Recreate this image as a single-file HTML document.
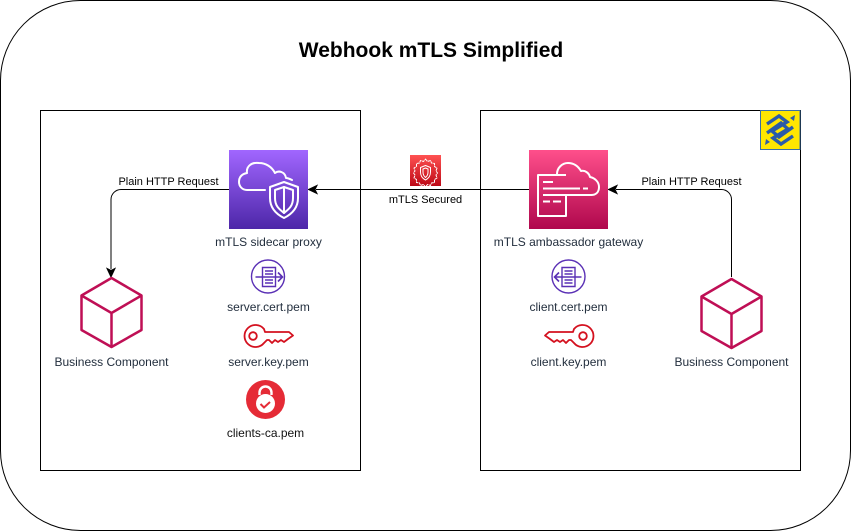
<!DOCTYPE html>
<html><head><meta charset="utf-8"><style>
html,body{margin:0;padding:0;background:#fff}
svg{display:block}
text{font-family:"Liberation Sans",sans-serif}
.l{font-size:12px;fill:#232f3e;text-anchor:middle}
.c{font-size:11px;fill:#000;text-anchor:middle}
</style></head><body>
<svg width="852" height="531" viewBox="0 0 852 531" xmlns="http://www.w3.org/2000/svg">
<defs>
<linearGradient id="pu" x1="0" y1="1" x2="0" y2="0"><stop offset="0" stop-color="#4d27a8"/><stop offset="1" stop-color="#a166ff"/></linearGradient>
<linearGradient id="pk" x1="0" y1="1" x2="0" y2="0"><stop offset="0" stop-color="#b0084d"/><stop offset="1" stop-color="#ff4f8b"/></linearGradient>
<linearGradient id="rd" x1="0" y1="1" x2="0" y2="0"><stop offset="0" stop-color="#bd0816"/><stop offset="1" stop-color="#ff5252"/></linearGradient>
</defs>
<rect width="852" height="531" fill="#fff"/>
<rect x="0.5" y="0.5" width="850" height="530" rx="80" ry="80" fill="#fff" stroke="#000"/>
<text x="431" y="57" text-anchor="middle" font-size="21" font-weight="700" fill="#000">Webhook mTLS Simplified</text>
<rect x="40.5" y="110.5" width="320" height="360" fill="#fff" stroke="#000"/>
<rect x="480.5" y="110.500" width="320" height="360" fill="#fff" stroke="#000"/>

<!-- connectors -->
<g fill="none" stroke="#000" stroke-width="1">
<path d="M529 189.500H316"/>
<path d="M229 189.500H121a10 10 0 0 0-10 10V269"/>
<path d="M731.500 277V199.500a10 10 0 0 0-10-10H616"/>
</g>
<path d="M308.500 189.500l8.500-4-2 4 2 4z" stroke="#000" fill="#000"/>
<path d="M608.500 189.500l8.500-4-2 4 2 4z" stroke="#000" fill="#000"/>
<path d="M111 277l-4-8.500 4 2 4-2z" stroke="#000" fill="#000"/>

<text class="c" x="168.500" y="185">Plain HTTP Request</text>
<text class="c" x="691.500" y="185">Plain HTTP Request</text>
<text class="c" x="425.500" y="203">mTLS Secured</text>

<!-- purple tile -->
<rect x="229" y="150" width="79" height="79" fill="url(#pu)"/>
<g fill="none" stroke="#fff" stroke-width="2" stroke-linejoin="round" stroke-linecap="round">
<path d="M265 190H247c-5 0-8-4-8-8 0-5 3-8 8-9-1-7 5-11 12-10 7 0 13 4 16 10 4-3 10-1 11 5 2 0 4 1 6 2"/>
<path d="M284 182l14 5v11c0 10-6 16-14 20-8-4-14-10-14-20v-11z"/>
<path d="M284 187l9 3v8c0 8-4 11-9 15-5-4-9-7-9-15v-8z"/>
<path d="M284 187v26"/>
</g>

<!-- pink tile -->
<rect x="529" y="150" width="79" height="79" fill="url(#pk)"/>
<g fill="none" stroke="#fff" stroke-width="2" stroke-linejoin="round">
<path d="M566 175H538V216H566V195"/>
<path d="M543 182h10M543 188.500h37M583 188.500h5M557 195h35M543 195h14M543 201.500h7M553 201.500h8"/>
<path d="M557 174c0-6 5-11 11-11 6 0 10 3 13 8 4-1 8 2 9 6 5 1 9 5 9 10 0 5-3 8-8 8"/>
</g>

<!-- small red tile -->
<rect x="410" y="155" width="31" height="31" fill="url(#rd)"/>
<g fill="none" stroke="#fff" stroke-linejoin="round">
<path d="M425.500 159l2 2.500 3-1 1 2.500 3 .5v3l2.500 1.500-1 3 1.500 2-1.500 2 1 3-2.500 1.500v3l-3 .5-1 2.500-3-1-2 2.500-2-2.500-3 1-1-2.500-3-.5v-3l-2.500-1.500 1-3-1.500-2 1.500-2-1-3 2.500-1.500v-3l3-.5 1-2.500 3 1z" stroke-dasharray="3 .6"/>
<path d="M425.500 165.500l5 2v4.500c0 4-2 6.500-5 8-3-1.500-5-4-5-8v-4.500z"/>
<path d="M425.500 168l2.500 1v3c0 3-1 4-2.500 5.500-1.500-1.500-2.500-2.500-2.500-5.500v-3z"/>
</g>

<!-- logo -->
<rect x="760.500" y="110.500" width="39.500" height="39" fill="#ffe600" stroke="#3a6ea5"/>
<g fill="none" stroke="#2a5ba8" stroke-width="3.400" stroke-linejoin="miter">
<path d="M767 124L779 116L787 122L772 131L779 137L793 127"/>
<path d="M793 136L781 144L773 138L788 129L781 123L767 133"/>
</g>
<path d="M790 118l5-3-1 6zM770 142l-5 3 1-6z" fill="#2a5ba8"/>

<text class="l" x="268.500" y="246">mTLS sidecar proxy</text>
<text class="l" x="568.500" y="246">mTLS ambassador gateway</text>

<!-- server cert -->
<g fill="none" stroke="#5a30b5" stroke-width="1.400">
<circle cx="268" cy="276.500" r="16.500"/>
<path d="M262.500 267.500h13v19h-13z"/>
<path d="M265 271h8M265 274h8M265 280h8M265 283h8"/>
<path d="M255.500 277h27M278 272.500l4.500 4.500-4.500 4.500" stroke-width="1.600"/>
</g>
<text class="l" x="268.500" y="311">server.cert.pem</text>

<!-- server key -->
<g fill="none" stroke="#d4111f" stroke-width="1.800" stroke-linejoin="round">
<path d="M263 329a11 11 0 1 0 0 14l3-3h2l3 3 3-3 3 2 3-2 3 2 4-3 5-3.500-4-3.500h-24z" transform="translate(1 0)"/>
<circle cx="253" cy="336" r="3.800"/>
</g>
<text class="l" x="268.500" y="366">server.key.pem</text>

<!-- clients-ca -->
<circle cx="265.500" cy="399.500" r="19.500" fill="#e52b36"/>
<path d="M259.500 395v-2.500a6 6 0 0 1 12 0v2.500" fill="none" stroke="#fff" stroke-width="2.400"/>
<circle cx="265.500" cy="403.500" r="9.500" fill="#fff"/>
<path d="M260.500 404l3.500 3.500 6-5.500" fill="none" stroke="#e52b36" stroke-width="2"/>
<text class="l" x="265.500" y="437" style="fill:#111">clients-ca.pem</text>

<!-- client cert -->
<g fill="none" stroke="#5a30b5" stroke-width="1.400">
<circle cx="568.500" cy="276.500" r="16.500"/>
<path d="M562 267.500h13v19h-13z"/>
<path d="M564.500 271h8M564.500 274h8M564.500 280h8M564.500 283h8"/>
<path d="M581.500 277h-27M559 272.500l-4.500 4.500 4.500 4.500" stroke-width="1.600"/>
</g>
<text class="l" x="568.500" y="311">client.cert.pem</text>

<!-- client key -->
<g fill="none" stroke="#d4111f" stroke-width="1.800" stroke-linejoin="round">
<path d="M574 329a11 11 0 1 1 0 14l-3-3h-2l-3 3-3-3-3 2-3-2-3 2-4-3-5-3.500 4-3.500h24z"/>
<circle cx="583" cy="336" r="3.800"/>
</g>
<text class="l" x="568.500" y="366">client.key.pem</text>

<!-- cubes -->
<g fill="none" stroke="#bf0f55" stroke-width="2.500" stroke-linejoin="round">
<path d="M111.500 278l30 17.500v34.500l-30 17-30-17v-34.500z"/>
<path d="M81.500 295.500l30 17.500 30-17.500M111.500 313v34"/>
<path d="M731.500 279l30 17.500v34.500l-30 17-30-17v-34.500z"/>
<path d="M701.500 296.500l30 17.500 30-17.500M731.500 314v34"/>
</g>
<text class="l" x="111.500" y="366">Business Component</text>
<text class="l" x="731.500" y="366">Business Component</text>
</svg>
</body></html>
